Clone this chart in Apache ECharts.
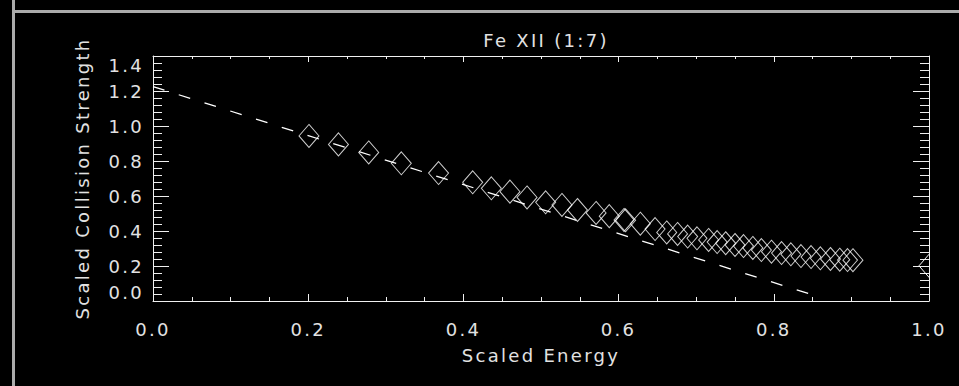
<!DOCTYPE html>
<html>
<head>
<meta charset="utf-8">
<script src="https://cdn.jsdelivr.net/npm/echarts@6/dist/echarts.min.js"></script>
<style>
html,body{margin:0;padding:0;background:#000;}
#chart{width:959px;height:386px;}
#chart svg text{letter-spacing:2.3px;}
</style>
</head>
<body>
<div id="chart"></div>
<script>
// ---- data ----
const titleText = 'Fe XII (1:7)';
const xName = 'Scaled Energy';
const yName = 'Scaled Collision Strength';
const xTicks = [0.0, 0.2, 0.4, 0.6, 0.8, 1.0];
const yTicks = [0.0, 0.2, 0.4, 0.6, 0.8, 1.0, 1.2, 1.4];

// diamonds (scaled energy, scaled collision strength)
const ptX = [0.201,0.239,0.278,0.320,0.368,0.412,0.436,0.460,0.482,0.506,0.527,0.547,0.571,0.588,0.607,0.609,
             0.628,0.647,0.662,0.676,0.689,0.701,0.716,0.727,0.738,0.750,0.761,0.773,0.784,0.797,0.810,0.822,
             0.835,0.848,0.860,0.873,0.885,0.895,0.902];
const ptY = [0.943,0.895,0.849,0.787,0.731,0.678,0.644,0.625,0.592,0.564,0.549,0.520,0.503,0.485,0.463,0.461,
             0.442,0.411,0.392,0.383,0.368,0.358,0.349,0.337,0.330,0.320,0.314,0.303,0.291,0.282,0.274,0.267,
             0.257,0.251,0.244,0.240,0.236,0.234,0.233];
// high-energy limit point (at x = 1, clipped by the frame)
const limX = [1.0];
const limY = [0.201];

// dashed fit line
const fitX = [0.0, 0.856];
const fitY = [1.225, 0.027];

// ---- chart ----
const FONT = 'DejaVu Sans';
const TXT = '#e2e2e2';
const AX = '#f0f0f0';

const chart = echarts.init(document.getElementById('chart'), null, {renderer: 'svg'});

const fmt = v => Number(v).toFixed(1);

const commonX = {
  type: 'value', min: xTicks[0], max: xTicks[xTicks.length - 1], interval: 0.2,
  splitLine: {show: false},
  axisLine: {show: true, onZero: false, lineStyle: {color: AX, width: 1}},
  minorTick: {show: true, splitNumber: 4, length: 4, lineStyle: {color: AX, width: 1}},
  axisTick: {show: true, inside: true, length: 7, lineStyle: {color: AX, width: 1}}
};
const commonY = {
  type: 'value', min: yTicks[0], max: yTicks[yTicks.length - 1], interval: 0.2,
  splitLine: {show: false},
  axisLine: {show: true, onZero: false, lineStyle: {color: AX, width: 1}},
  minorTick: {show: true, splitNumber: 5, length: 9, lineStyle: {color: AX, width: 1}},
  axisTick: {show: true, inside: true, length: 16, lineStyle: {color: AX, width: 1}}
};

chart.setOption({
  backgroundColor: '#000',
  animation: false,
  title: {
    text: titleText, left: 541, top: 26, textAlign: 'center',
    textStyle: {color: TXT, fontFamily: FONT, fontSize: 18, fontWeight: 'normal'}
  },
  grid: {left: 153, top: 56, width: 776, height: 245, containLabel: false},
  xAxis: [
    Object.assign({}, commonX, {
      position: 'bottom',
      name: xName, nameLocation: 'middle', nameGap: 45,
      nameTextStyle: {color: TXT, fontFamily: FONT, fontSize: 18},
      axisLabel: {show: true, color: TXT, fontFamily: FONT, fontSize: 18, margin: 19, formatter: fmt}
    }),
    Object.assign({}, commonX, {
      position: 'top',
      axisLabel: {show: false},
      axisTick: {show: true, inside: true, length: 6, lineStyle: {color: AX, width: 1}},
      minorTick: {show: true, splitNumber: 4, length: 3, lineStyle: {color: AX, width: 1}}
    })
  ],
  yAxis: [
    Object.assign({}, commonY, {
      position: 'left',
      name: yName, nameLocation: 'middle', nameGap: 62,
      nameTextStyle: {color: TXT, fontFamily: FONT, fontSize: 18},
      axisLabel: {show: true, color: TXT, fontFamily: FONT, fontSize: 18, margin: 9, formatter: fmt,
                  verticalAlignMinLabel: 'bottom', verticalAlignMaxLabel: 'top'}
    }),
    Object.assign({}, commonY, {
      position: 'right',
      axisLabel: {show: false}
    })
  ],
  graphic: [
    {type: 'rect', shape: {x: 12, y: 0, width: 3, height: 386}, style: {fill: '#ababab'}, silent: true},
    {type: 'rect', shape: {x: 12, y: 10, width: 947, height: 3}, style: {fill: '#ababab'}, silent: true}
  ],
  series: [
    {
      type: 'line', xAxisIndex: 0, yAxisIndex: 0,
      data: fitX.map((x, i) => [x, fitY[i]]),
      showSymbol: false, symbol: 'none', clip: true,
      lineStyle: {color: '#ffffff', width: 1.3, type: [12, 15]}
    },
    {
      type: 'scatter', xAxisIndex: 0, yAxisIndex: 0,
      data: ptX.map((x, i) => [x, ptY[i]]),
      symbol: 'diamond', symbolSize: [20, 23],
      itemStyle: {color: 'rgba(0,0,0,0)', borderColor: '#ffffff', borderWidth: 1}
    },
    {
      type: 'custom', xAxisIndex: 0, yAxisIndex: 0, clip: true,
      data: limX.map((x, i) => [x, limY[i]]),
      renderItem: function (params, api) {
        const p = api.coord([api.value(0), api.value(1)]);
        const w = 10, h = 11.5;
        return {
          type: 'polygon',
          shape: {points: [[p[0], p[1] - h], [p[0] + w, p[1]], [p[0], p[1] + h], [p[0] - w, p[1]]]},
          style: {fill: 'none', stroke: '#ffffff', lineWidth: 1}
        };
      }
    }
  ]
});
</script>
</body>
</html>
